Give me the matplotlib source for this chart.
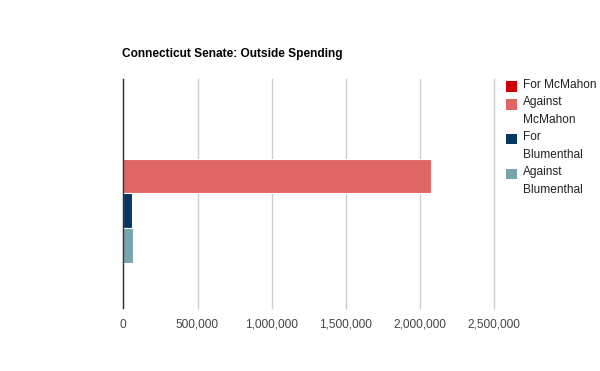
import matplotlib
matplotlib.use("Agg")
import matplotlib.pyplot as plt
from matplotlib.patches import Rectangle
from matplotlib.ticker import FuncFormatter

plt.rcParams['font.family'] = ['Liberation Sans', 'DejaVu Sans']

title = "Connecticut Senate: Outside Spending"
series = ["For McMahon", "Against McMahon", "For Blumenthal", "Against Blumenthal"]
legend_lines = [["For McMahon"], ["Against", "McMahon"], ["For", "Blumenthal"], ["Against", "Blumenthal"]]
values = [0, 2074000, 58000, 64000]
colors = ["#cc0000", "#e06666", "#073763", "#76a5af"]
xticks = [0, 500000, 1000000, 1500000, 2000000, 2500000]

fig = plt.figure(figsize=(6.0, 3.71), dpi=100)
ax = fig.add_axes([123.3/600, 63.3/371, 371.0/600, 228.7/371])

band = 0.608
h = band / len(series)
for i, (name, v, c) in enumerate(zip(series, values, colors)):
    y = -band/2 + h*(i + 0.5)
    ax.barh(y, v, height=h, color=c, edgecolor="white", linewidth=0.8, label=name)

ax.set_ylim(0.5, -0.5)
ax.set_xlim(0, 2500000)
ax.set_xticks(xticks)
ax.xaxis.set_major_formatter(FuncFormatter(lambda x, p: f"{int(x):,}"))
ax.set_yticks([])
ax.grid(axis="x", color="#cccccc", linewidth=1)
for gl in ax.get_xgridlines():
    gl.set_clip_on(False)
ax.set_axisbelow(True)
for s in ["top", "right", "bottom"]:
    ax.spines[s].set_visible(False)
ax.spines["left"].set_color("#333333")
ax.spines["left"].set_linewidth(1)
ax.spines["left"].set_zorder(5)
ax.tick_params(axis="x", length=0, pad=8, labelsize=8.6, labelcolor="#444444")

fig.text(122/600, 1 - 54/371, title, fontsize=8.6, fontweight="bold", color="#000000",
         va="center", ha="left")

# legend
W, H = 600, 371
line_h = 17.5
y0 = 85
for lines, c in zip(legend_lines, colors):
    fig.patches.append(Rectangle((506/W, 1 - (y0 + 7)/H), 11/W, 11/H,
                                 transform=fig.transFigure, facecolor=c, edgecolor="none"))
    for k, ln in enumerate(lines):
        fig.text(523/W, 1 - (y0 + line_h*k)/H, ln, fontsize=8.6, color="#222222",
                 va="center", ha="left")
    y0 += line_h*len(lines)

fig.savefig("out.png", dpi=100, facecolor="white")
